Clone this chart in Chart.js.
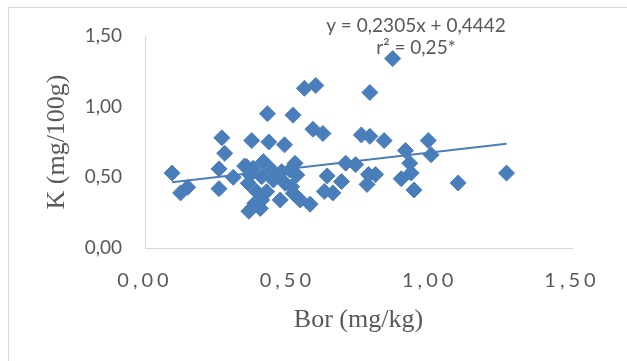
<!DOCTYPE html>
<html>
<head>
<meta charset="utf-8">
<script src="https://cdn.jsdelivr.net/npm/chart.js@4"></script>
<style>
  body { margin: 0; background: #fff; }
  #wrap { position: relative; width: 627px; height: 361px; }
  #frame { position: absolute; left: 8px; top: 7px; right: 0; bottom: 0;
           border-left: 1px solid #d9d9d9; border-top: 1px solid #d9d9d9; }
  canvas { position: absolute; left: 0; top: 0; }
</style>
</head>
<body>
<div id="wrap">
  <div id="frame"></div>
  <canvas id="bor" width="627" height="361"></canvas>
</div>
<script>
// Bor (mg/kg) vs K (mg/100g)
const bor = [0.095, 0.125, 0.15, 0.27, 0.28, 0.26, 0.26, 0.31, 0.35, 0.375,
             0.43, 0.435, 0.49, 0.52, 0.56, 0.60, 0.59, 0.625, 0.365, 0.405,
             0.475, 0.545, 0.58, 0.64, 0.63, 0.66, 0.69, 0.705, 0.74, 0.76,
             0.79, 0.84, 0.79, 0.87, 0.785, 0.81, 0.78, 0.915, 0.995, 1.005,
             0.93, 0.935, 0.90, 0.945, 1.10, 1.27,
             0.38, 0.416, 0.41, 0.445, 0.451, 0.363, 0.392, 0.427, 0.41, 0.386,
             0.492, 0.527, 0.533, 0.515, 0.48, 0.509, 0.521, 0.357, 0.369];
const potas = [0.53, 0.39, 0.43, 0.78, 0.67, 0.56, 0.42, 0.50, 0.58, 0.76,
               0.95, 0.75, 0.73, 0.94, 1.13, 1.15, 0.84, 0.81, 0.26, 0.28,
               0.34, 0.34, 0.31, 0.51, 0.40, 0.39, 0.47, 0.60, 0.59, 0.80,
               0.79, 0.76, 1.10, 1.34, 0.52, 0.52, 0.45, 0.69, 0.76, 0.66,
               0.60, 0.53, 0.49, 0.41, 0.46, 0.53,
               0.564, 0.611, 0.505, 0.552, 0.481, 0.458, 0.398, 0.398, 0.34, 0.316,
               0.458, 0.599, 0.517, 0.434, 0.54, 0.552, 0.387, 0.575, 0.517];

// linear trendline ends as drawn
const trendX = [0.095, 1.27];
const trendY = [0.466, 0.737];

const equation = ['y = 0,2305x + 0,4442', 'r\u00b2 = 0,25*'];

const blue = '#4a7ebb';
const grey = '#595959';
const fmt = v => v.toFixed(2).replace('.', ',');

// x tick labels in the original are letter-spaced
const spacedTicks = {
    id: 'spacedTicks',
    afterUpdate(chart) {
        const sc = chart.scales.x;
        if (sc._spaced) return;
        const orig = sc.drawLabels;
        sc.drawLabels = function (area) {
            this.ctx.save();
            this.ctx.letterSpacing = '4px';
            orig.call(this, area);
            this.ctx.restore();
        };
        sc._spaced = true;
    }
};

const eqLabel = {
    id: 'eqLabel',
    afterDraw(chart) {
        const c = chart.ctx;
        c.save();
        c.font = '19px Lato';
        c.fillStyle = grey;
        c.textAlign = 'center';
        c.textBaseline = 'middle';
        c.fillText(equation[0], 416, 26);
        c.fillText(equation[1], 416, 48);
        c.restore();
    }
};

const points = bor.map((b, i) => ({ x: b, y: potas[i] }));
const trend = trendX.map((t, i) => ({ x: t, y: trendY[i] }));

new Chart(document.getElementById('bor'), {
    type: 'scatter',
    data: {
        datasets: [{
            data: points,
            pointStyle: 'rectRot',
            pointRadius: 8,
            pointBorderWidth: 1,
            backgroundColor: blue,
            borderColor: blue,
            order: 1
        }, {
            type: 'line',
            data: trend,
            borderColor: blue,
            borderWidth: 2,
            pointRadius: 0,
            fill: false,
            order: 0
        }]
    },
    options: {
        responsive: false,
        animation: false,
        layout: { padding: { left: 0, right: 55, top: 36, bottom: 0 } },
        plugins: { legend: { display: false }, tooltip: { enabled: false } },
        scales: {
            x: {
                type: 'linear',
                min: 0, max: 1.5,
                grid: { display: false, drawTicks: false },
                border: { color: '#d9d9d9', width: 1 },
                ticks: {
                    stepSize: 0.5,
                    padding: 21,
                    color: grey,
                    font: { family: 'Lato', size: 20 },
                    callback: v => fmt(v)
                },
                title: {
                    display: true,
                    text: 'Bor (mg/kg)',
                    color: grey,
                    font: { family: 'Liberation Serif', size: 26 },
                    padding: { top: 0, bottom: 25 }
                },
                afterFit: s => { s.height = 361 - 248; }
            },
            y: {
                min: 0, max: 1.5,
                grid: { display: false, drawTicks: false },
                border: { color: '#d9d9d9', width: 1 },
                ticks: {
                    stepSize: 0.5,
                    padding: 23,
                    color: grey,
                    font: { family: 'Lato', size: 19 },
                    callback: v => fmt(v)
                },
                title: {
                    display: true,
                    text: 'K (mg/100g)',
                    color: grey,
                    font: { family: 'Liberation Serif', size: 26 },
                    padding: { top: 42, bottom: 0 }
                },
                afterFit: s => { s.width = 145; }
            }
        }
    },
    plugins: [spacedTicks, eqLabel]
});
</script>
</body>
</html>
